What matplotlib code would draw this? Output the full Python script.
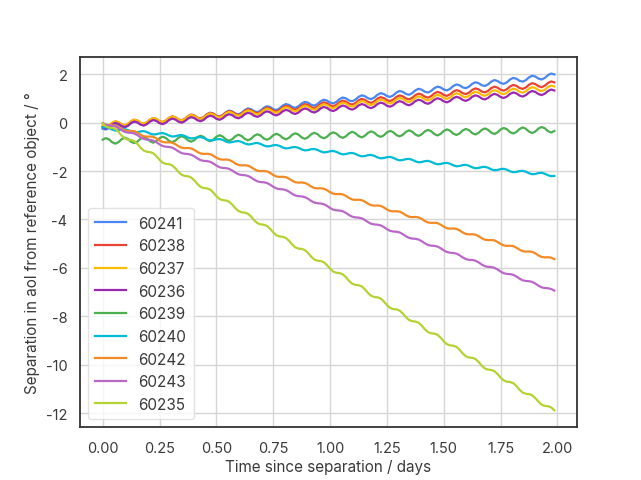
"""Separation in AoL of satellites 60235-60243 from the reference object."""

import numpy as np
import matplotlib

matplotlib.use("Agg")
import matplotlib.pyplot as plt

plt.rcParams["font.family"] = ["Inter", "DejaVu Sans"]
plt.rcParams["axes.unicode_minus"] = False

# samples every 20 min (1/72 day), 144 samples, one row per ~2 h orbit
days = np.arange(144) / 72

sep_60241 = [
    -0.25, -0.285, -0.22, -0.105, -0.04, -0.075,
    -0.16, -0.195, -0.13, -0.015, 0.05, 0.015,
    -0.07, -0.105, -0.04, 0.075, 0.14, 0.105,
    0.02, -0.015, 0.05, 0.165, 0.23, 0.195,
    0.11, 0.075, 0.14, 0.255, 0.32, 0.285,
    0.20, 0.165, 0.23, 0.345, 0.41, 0.375,
    0.29, 0.255, 0.32, 0.435, 0.50, 0.465,
    0.38, 0.345, 0.41, 0.525, 0.59, 0.555,
    0.47, 0.435, 0.50, 0.615, 0.68, 0.645,
    0.56, 0.525, 0.59, 0.705, 0.77, 0.735,
    0.65, 0.615, 0.68, 0.795, 0.86, 0.825,
    0.74, 0.705, 0.77, 0.885, 0.95, 0.915,
    0.83, 0.795, 0.86, 0.975, 1.04, 1.005,
    0.92, 0.885, 0.95, 1.065, 1.13, 1.095,
    1.01, 0.975, 1.04, 1.155, 1.22, 1.185,
    1.10, 1.065, 1.13, 1.245, 1.31, 1.275,
    1.19, 1.155, 1.22, 1.335, 1.40, 1.365,
    1.28, 1.245, 1.31, 1.425, 1.49, 1.455,
    1.37, 1.335, 1.40, 1.515, 1.58, 1.545,
    1.46, 1.425, 1.49, 1.605, 1.67, 1.635,
    1.55, 1.515, 1.58, 1.695, 1.76, 1.725,
    1.64, 1.605, 1.67, 1.785, 1.85, 1.815,
    1.73, 1.695, 1.76, 1.875, 1.94, 1.905,
    1.82, 1.785, 1.85, 1.965, 2.03, 1.995,
]
sep_60238 = [
    -0.150, -0.188, -0.126, -0.014, 0.048, 0.010,
    -0.078, -0.116, -0.054, 0.058, 0.120, 0.082,
    -0.006, -0.044, 0.018, 0.130, 0.192, 0.154,
    0.066, 0.028, 0.090, 0.202, 0.264, 0.226,
    0.138, 0.100, 0.162, 0.274, 0.336, 0.298,
    0.210, 0.172, 0.234, 0.346, 0.408, 0.370,
    0.282, 0.244, 0.306, 0.418, 0.480, 0.442,
    0.354, 0.316, 0.378, 0.490, 0.552, 0.514,
    0.426, 0.388, 0.450, 0.562, 0.624, 0.586,
    0.498, 0.460, 0.522, 0.634, 0.696, 0.658,
    0.570, 0.532, 0.594, 0.706, 0.768, 0.730,
    0.642, 0.604, 0.666, 0.778, 0.840, 0.802,
    0.714, 0.676, 0.738, 0.850, 0.912, 0.874,
    0.786, 0.748, 0.810, 0.922, 0.984, 0.946,
    0.858, 0.820, 0.882, 0.994, 1.056, 1.018,
    0.930, 0.892, 0.954, 1.066, 1.128, 1.090,
    1.002, 0.964, 1.026, 1.138, 1.200, 1.162,
    1.074, 1.036, 1.098, 1.210, 1.272, 1.234,
    1.146, 1.108, 1.170, 1.282, 1.344, 1.306,
    1.218, 1.180, 1.242, 1.354, 1.416, 1.378,
    1.290, 1.252, 1.314, 1.426, 1.488, 1.450,
    1.362, 1.324, 1.386, 1.498, 1.560, 1.522,
    1.434, 1.396, 1.458, 1.570, 1.632, 1.594,
    1.506, 1.468, 1.530, 1.642, 1.704, 1.666,
]
sep_60237 = [
    -0.130, -0.169, -0.109, 0.002, 0.063, 0.023,
    -0.066, -0.105, -0.045, 0.066, 0.127, 0.087,
    -0.002, -0.041, 0.019, 0.130, 0.191, 0.151,
    0.062, 0.023, 0.083, 0.194, 0.255, 0.215,
    0.126, 0.087, 0.147, 0.258, 0.319, 0.279,
    0.190, 0.151, 0.211, 0.322, 0.383, 0.343,
    0.254, 0.215, 0.275, 0.386, 0.447, 0.407,
    0.318, 0.279, 0.339, 0.450, 0.511, 0.471,
    0.382, 0.343, 0.403, 0.514, 0.575, 0.535,
    0.446, 0.407, 0.467, 0.578, 0.639, 0.599,
    0.510, 0.471, 0.531, 0.642, 0.703, 0.663,
    0.574, 0.535, 0.595, 0.706, 0.767, 0.727,
    0.638, 0.599, 0.659, 0.770, 0.831, 0.791,
    0.702, 0.663, 0.723, 0.834, 0.895, 0.855,
    0.766, 0.727, 0.787, 0.898, 0.959, 0.919,
    0.830, 0.791, 0.851, 0.962, 1.023, 0.983,
    0.894, 0.855, 0.915, 1.026, 1.087, 1.047,
    0.958, 0.919, 0.979, 1.090, 1.151, 1.111,
    1.022, 0.983, 1.043, 1.154, 1.215, 1.175,
    1.086, 1.047, 1.107, 1.218, 1.279, 1.239,
    1.150, 1.111, 1.171, 1.282, 1.343, 1.303,
    1.214, 1.175, 1.235, 1.346, 1.407, 1.367,
    1.278, 1.239, 1.299, 1.410, 1.471, 1.431,
    1.342, 1.303, 1.363, 1.474, 1.535, 1.495,
]
sep_60236 = [
    -0.20, -0.24, -0.18, -0.07, -0.01, -0.05,
    -0.14, -0.18, -0.12, -0.01, 0.05, 0.01,
    -0.08, -0.12, -0.06, 0.05, 0.11, 0.07,
    -0.02, -0.06, 0.00, 0.11, 0.17, 0.13,
    0.04, 0.00, 0.06, 0.17, 0.23, 0.19,
    0.10, 0.06, 0.12, 0.23, 0.29, 0.25,
    0.16, 0.12, 0.18, 0.29, 0.35, 0.31,
    0.22, 0.18, 0.24, 0.35, 0.41, 0.37,
    0.28, 0.24, 0.30, 0.41, 0.47, 0.43,
    0.34, 0.30, 0.36, 0.47, 0.53, 0.49,
    0.40, 0.36, 0.42, 0.53, 0.59, 0.55,
    0.46, 0.42, 0.48, 0.59, 0.65, 0.61,
    0.52, 0.48, 0.54, 0.65, 0.71, 0.67,
    0.58, 0.54, 0.60, 0.71, 0.77, 0.73,
    0.64, 0.60, 0.66, 0.77, 0.83, 0.79,
    0.70, 0.66, 0.72, 0.83, 0.89, 0.85,
    0.76, 0.72, 0.78, 0.89, 0.95, 0.91,
    0.82, 0.78, 0.84, 0.95, 1.01, 0.97,
    0.88, 0.84, 0.90, 1.01, 1.07, 1.03,
    0.94, 0.90, 0.96, 1.07, 1.13, 1.09,
    1.00, 0.96, 1.02, 1.13, 1.19, 1.15,
    1.06, 1.02, 1.08, 1.19, 1.25, 1.21,
    1.12, 1.08, 1.14, 1.25, 1.31, 1.27,
    1.18, 1.14, 1.20, 1.31, 1.37, 1.33,
]
sep_60239 = [
    -0.700, -0.637, -0.693, -0.810, -0.867, -0.803,
    -0.680, -0.617, -0.673, -0.790, -0.847, -0.783,
    -0.660, -0.597, -0.653, -0.770, -0.827, -0.763,
    -0.640, -0.577, -0.633, -0.750, -0.807, -0.743,
    -0.620, -0.557, -0.613, -0.730, -0.787, -0.723,
    -0.600, -0.537, -0.593, -0.710, -0.767, -0.703,
    -0.580, -0.517, -0.573, -0.690, -0.747, -0.683,
    -0.560, -0.497, -0.553, -0.670, -0.727, -0.663,
    -0.540, -0.477, -0.533, -0.650, -0.707, -0.643,
    -0.520, -0.457, -0.513, -0.630, -0.687, -0.623,
    -0.500, -0.437, -0.493, -0.610, -0.667, -0.603,
    -0.480, -0.417, -0.473, -0.590, -0.647, -0.583,
    -0.460, -0.397, -0.453, -0.570, -0.627, -0.563,
    -0.440, -0.377, -0.433, -0.550, -0.607, -0.543,
    -0.420, -0.357, -0.413, -0.530, -0.587, -0.523,
    -0.400, -0.337, -0.393, -0.510, -0.567, -0.503,
    -0.380, -0.317, -0.373, -0.490, -0.547, -0.483,
    -0.360, -0.297, -0.353, -0.470, -0.527, -0.463,
    -0.340, -0.277, -0.333, -0.450, -0.507, -0.443,
    -0.320, -0.257, -0.313, -0.430, -0.487, -0.423,
    -0.300, -0.237, -0.293, -0.410, -0.467, -0.403,
    -0.280, -0.217, -0.273, -0.390, -0.447, -0.383,
    -0.260, -0.197, -0.253, -0.370, -0.427, -0.363,
    -0.240, -0.177, -0.233, -0.350, -0.407, -0.343,
]
sep_60240 = [
    -0.195, -0.184, -0.222, -0.286, -0.325, -0.313,
    -0.277, -0.266, -0.304, -0.368, -0.407, -0.395,
    -0.359, -0.348, -0.386, -0.450, -0.489, -0.477,
    -0.441, -0.430, -0.468, -0.532, -0.571, -0.559,
    -0.523, -0.512, -0.550, -0.614, -0.653, -0.641,
    -0.605, -0.594, -0.632, -0.696, -0.735, -0.723,
    -0.687, -0.676, -0.714, -0.778, -0.817, -0.805,
    -0.769, -0.758, -0.796, -0.860, -0.899, -0.887,
    -0.851, -0.840, -0.878, -0.942, -0.981, -0.969,
    -0.933, -0.922, -0.960, -1.024, -1.063, -1.051,
    -1.015, -1.004, -1.042, -1.106, -1.145, -1.133,
    -1.097, -1.086, -1.124, -1.188, -1.227, -1.215,
    -1.179, -1.168, -1.206, -1.270, -1.309, -1.297,
    -1.261, -1.250, -1.288, -1.352, -1.391, -1.379,
    -1.343, -1.332, -1.370, -1.434, -1.473, -1.461,
    -1.425, -1.414, -1.452, -1.516, -1.555, -1.543,
    -1.507, -1.496, -1.534, -1.598, -1.637, -1.625,
    -1.589, -1.578, -1.616, -1.680, -1.719, -1.707,
    -1.671, -1.660, -1.698, -1.762, -1.801, -1.789,
    -1.753, -1.742, -1.780, -1.844, -1.883, -1.871,
    -1.835, -1.824, -1.862, -1.926, -1.965, -1.953,
    -1.917, -1.906, -1.944, -2.008, -2.047, -2.035,
    -1.999, -1.988, -2.026, -2.090, -2.129, -2.117,
    -2.081, -2.070, -2.108, -2.172, -2.211, -2.199,
]
sep_60242 = [
    -0.023, -0.085, -0.102, -0.096, -0.113, -0.175,
    -0.261, -0.323, -0.340, -0.334, -0.351, -0.413,
    -0.498, -0.560, -0.577, -0.571, -0.588, -0.650,
    -0.736, -0.798, -0.815, -0.809, -0.826, -0.888,
    -0.973, -1.035, -1.052, -1.046, -1.063, -1.125,
    -1.211, -1.273, -1.290, -1.284, -1.301, -1.363,
    -1.448, -1.510, -1.527, -1.521, -1.538, -1.600,
    -1.686, -1.748, -1.765, -1.759, -1.776, -1.838,
    -1.923, -1.985, -2.002, -1.996, -2.013, -2.075,
    -2.161, -2.223, -2.240, -2.234, -2.251, -2.313,
    -2.398, -2.460, -2.477, -2.471, -2.488, -2.550,
    -2.636, -2.698, -2.715, -2.709, -2.726, -2.788,
    -2.873, -2.935, -2.952, -2.946, -2.963, -3.025,
    -3.111, -3.173, -3.190, -3.184, -3.201, -3.263,
    -3.348, -3.410, -3.427, -3.421, -3.438, -3.500,
    -3.586, -3.648, -3.665, -3.659, -3.676, -3.738,
    -3.823, -3.885, -3.902, -3.896, -3.913, -3.975,
    -4.061, -4.123, -4.140, -4.134, -4.151, -4.213,
    -4.298, -4.360, -4.377, -4.371, -4.388, -4.450,
    -4.536, -4.598, -4.615, -4.609, -4.626, -4.688,
    -4.773, -4.835, -4.852, -4.846, -4.863, -4.925,
    -5.011, -5.073, -5.090, -5.084, -5.101, -5.163,
    -5.248, -5.310, -5.327, -5.321, -5.338, -5.400,
    -5.486, -5.548, -5.565, -5.559, -5.576, -5.638,
]
sep_60243 = [
    -0.020, -0.089, -0.117, -0.126, -0.155, -0.223,
    -0.312, -0.381, -0.409, -0.418, -0.447, -0.515,
    -0.604, -0.673, -0.701, -0.710, -0.739, -0.807,
    -0.896, -0.965, -0.993, -1.002, -1.031, -1.099,
    -1.188, -1.257, -1.285, -1.294, -1.323, -1.391,
    -1.480, -1.549, -1.577, -1.586, -1.615, -1.683,
    -1.772, -1.841, -1.869, -1.878, -1.907, -1.975,
    -2.064, -2.133, -2.161, -2.170, -2.199, -2.267,
    -2.356, -2.425, -2.453, -2.462, -2.491, -2.559,
    -2.648, -2.717, -2.745, -2.754, -2.783, -2.851,
    -2.940, -3.009, -3.037, -3.046, -3.075, -3.143,
    -3.232, -3.301, -3.329, -3.338, -3.367, -3.435,
    -3.524, -3.593, -3.621, -3.630, -3.659, -3.727,
    -3.816, -3.885, -3.913, -3.922, -3.951, -4.019,
    -4.108, -4.177, -4.205, -4.214, -4.243, -4.311,
    -4.400, -4.469, -4.497, -4.506, -4.535, -4.603,
    -4.692, -4.761, -4.789, -4.798, -4.827, -4.895,
    -4.984, -5.053, -5.081, -5.090, -5.119, -5.187,
    -5.276, -5.345, -5.373, -5.382, -5.411, -5.479,
    -5.568, -5.637, -5.665, -5.674, -5.703, -5.771,
    -5.860, -5.929, -5.957, -5.966, -5.995, -6.063,
    -6.152, -6.221, -6.249, -6.258, -6.287, -6.355,
    -6.444, -6.513, -6.541, -6.550, -6.579, -6.647,
    -6.736, -6.805, -6.833, -6.842, -6.871, -6.939,
]
sep_60235 = [
    -0.035, -0.153, -0.202, -0.215, -0.263, -0.382,
    -0.535, -0.653, -0.702, -0.715, -0.763, -0.882,
    -1.035, -1.153, -1.202, -1.215, -1.263, -1.382,
    -1.535, -1.653, -1.702, -1.715, -1.763, -1.882,
    -2.035, -2.153, -2.202, -2.215, -2.263, -2.382,
    -2.535, -2.653, -2.702, -2.715, -2.763, -2.882,
    -3.035, -3.153, -3.202, -3.215, -3.263, -3.382,
    -3.535, -3.653, -3.702, -3.715, -3.763, -3.882,
    -4.035, -4.153, -4.202, -4.215, -4.263, -4.382,
    -4.535, -4.653, -4.702, -4.715, -4.763, -4.882,
    -5.035, -5.153, -5.202, -5.215, -5.263, -5.382,
    -5.535, -5.653, -5.702, -5.715, -5.763, -5.882,
    -6.035, -6.153, -6.202, -6.215, -6.263, -6.382,
    -6.535, -6.653, -6.702, -6.715, -6.763, -6.882,
    -7.035, -7.153, -7.202, -7.215, -7.263, -7.382,
    -7.535, -7.653, -7.702, -7.715, -7.763, -7.882,
    -8.035, -8.153, -8.202, -8.215, -8.263, -8.382,
    -8.535, -8.653, -8.702, -8.715, -8.763, -8.882,
    -9.035, -9.153, -9.202, -9.215, -9.263, -9.382,
    -9.535, -9.653, -9.702, -9.715, -9.763, -9.882,
    -10.035, -10.153, -10.202, -10.215, -10.263, -10.382,
    -10.535, -10.653, -10.702, -10.715, -10.763, -10.882,
    -11.035, -11.153, -11.202, -11.215, -11.263, -11.382,
    -11.535, -11.653, -11.702, -11.715, -11.763, -11.882,
]

labels = ["60241", "60238", "60237", "60236", "60239", "60240", "60242", "60243", "60235"]
series = [sep_60241, sep_60238, sep_60237, sep_60236, sep_60239,
          sep_60240, sep_60242, sep_60243, sep_60235]
colors = ["#4a86f2", "#ea4335", "#fbbc05", "#9c27b0", "#4caf50",
          "#00bcd4", "#f48a23", "#ba68c8", "#b4d234"]

text_color = "#3a3a3a"

fig, ax = plt.subplots(figsize=(6.41, 4.81), dpi=100)
for name, vals, col in zip(labels, series, colors):
    ax.plot(days, vals, color=col, lw=1.6, label=name)

ax.grid(True, color="#d6d6d6", lw=1.0)
ax.set_axisbelow(True)
for sp in ax.spines.values():
    sp.set_color("#333333")
    sp.set_linewidth(1.3)
ax.tick_params(length=0, labelsize=10.5, labelcolor=text_color)
ax.tick_params(axis="x", pad=10)
ax.tick_params(axis="y", pad=9)
ax.set_xlabel("Time since separation / days", fontsize=11, color=text_color, labelpad=3)
ax.set_ylabel("Separation in aol from reference object / °", fontsize=11, color=text_color)

leg = ax.legend(loc="lower left", fontsize=11, frameon=True, fancybox=True,
                borderpad=0.5, handlelength=2.0)
leg.get_frame().set_edgecolor("#dddddd")
for t in leg.get_texts():
    t.set_color(text_color)

fig.savefig("out.png", dpi=100)
